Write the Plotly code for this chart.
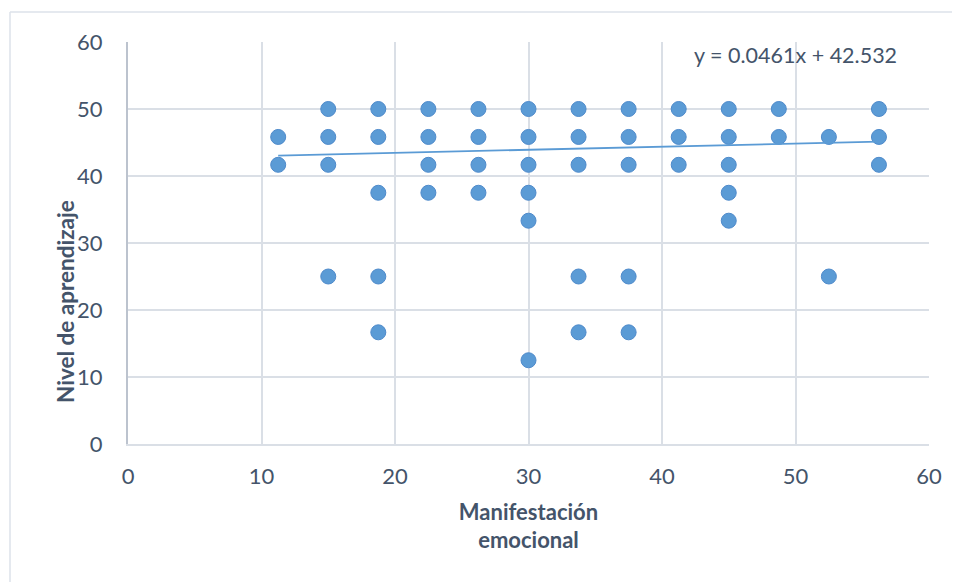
import plotly.graph_objects as go

# Data
manifestacion = [
    11.25, 11.25,
    15, 15, 15, 15,
    18.75, 18.75, 18.75, 18.75, 18.75,
    22.5, 22.5, 22.5, 22.5,
    26.25, 26.25, 26.25, 26.25,
    30, 30, 30, 30, 30, 30,
    33.75, 33.75, 33.75, 33.75, 33.75,
    37.5, 37.5, 37.5, 37.5, 37.5,
    41.25, 41.25, 41.25,
    45, 45, 45, 45, 45,
    48.75, 48.75,
    52.5, 52.5,
    56.25, 56.25, 56.25,
]
aprendizaje = [
    45.83, 41.67,
    50, 45.83, 41.67, 25,
    50, 45.83, 37.5, 25, 16.67,
    50, 45.83, 41.67, 37.5,
    50, 45.83, 41.67, 37.5,
    50, 45.83, 41.67, 37.5, 33.33, 12.5,
    50, 45.83, 41.67, 25, 16.67,
    50, 45.83, 41.67, 25, 16.67,
    50, 45.83, 41.67,
    50, 45.83, 41.67, 37.5, 33.33,
    50, 45.83,
    45.83, 25,
    50, 45.83, 41.67,
]
slope = 0.0461
intercept = 42.532
tick_vals = [0, 10, 20, 30, 40, 50, 60]

x_min, x_max = min(manifestacion), max(manifestacion)
trend_x = [x_min, x_max]
trend_y = [slope * v + intercept for v in trend_x]

TEXT = "#44546A"
GRID = "#DADFE6"
BLUE = "#5B9BD5"
FONT = "Lato"

fig = go.Figure()
fig.add_trace(go.Scatter(
    x=manifestacion, y=aprendizaje, mode="markers",
    marker=dict(size=15, color=BLUE, line=dict(color="#4E8ACB", width=1)),
    showlegend=False, hoverinfo="x+y",
))
fig.add_trace(go.Scatter(
    x=trend_x, y=trend_y, mode="lines",
    line=dict(color=BLUE, width=1.8),
    showlegend=False, hoverinfo="skip",
))

fig.update_layout(
    width=960, height=582,
    margin=dict(l=120, r=39, t=34, b=146),
    paper_bgcolor="white", plot_bgcolor="white",
    font=dict(family=FONT, color=TEXT, size=22),
    xaxis=dict(
        range=[0, 60], tickvals=tick_vals, showgrid=True, gridcolor=GRID, gridwidth=1.5,
        zeroline=False, showline=True, linecolor=GRID, linewidth=2,
        ticks="", ticklabelstandoff=12,
        tickfont=dict(size=22, color=TEXT, family=FONT),
        title=dict(text="<b>Manifestación<br>emocional</b>", standoff=16,
                   font=dict(size=22, color=TEXT, family=FONT)),
    ),
    yaxis=dict(
        range=[0, 60], tickvals=tick_vals, showgrid=True, gridcolor=GRID, gridwidth=1.5,
        zeroline=False, showline=True, linecolor="#BCC3CE", linewidth=2,
        ticks="", ticklabelstandoff=19,
        tickfont=dict(size=22, color=TEXT, family=FONT),
    ),
    annotations=[
        dict(text=f"y = {slope}x + {intercept}", x=(795 - 128) / 801 * 60, y=58.0,
             xref="x", yref="y", showarrow=False,
             font=dict(size=21.5, color=TEXT, family=FONT)),
        dict(text="<b>Nivel de aprendizaje</b>", textangle=-90,
             x=(65 - 128) / 801, y=(444 - 302) / 402, xref="paper", yref="paper",
             xanchor="center", yanchor="middle",
             showarrow=False, font=dict(size=22.5, color=TEXT, family=FONT)),
    ],
    shapes=[
        dict(type="line", xref="paper", yref="paper",
             x0=(10 - 128) / 801, x1=(10 - 128) / 801, y0=(444 - 12) / 402, y1=-0.5,
             line=dict(color="#DDE2EA", width=1.5)),
        dict(type="line", xref="paper", yref="paper",
             x0=(10 - 128) / 801, x1=1.1, y0=(444 - 12) / 402, y1=(444 - 12) / 402,
             line=dict(color="#DDE2EA", width=1.5)),
    ],
)

fig.write_html("out.html")
